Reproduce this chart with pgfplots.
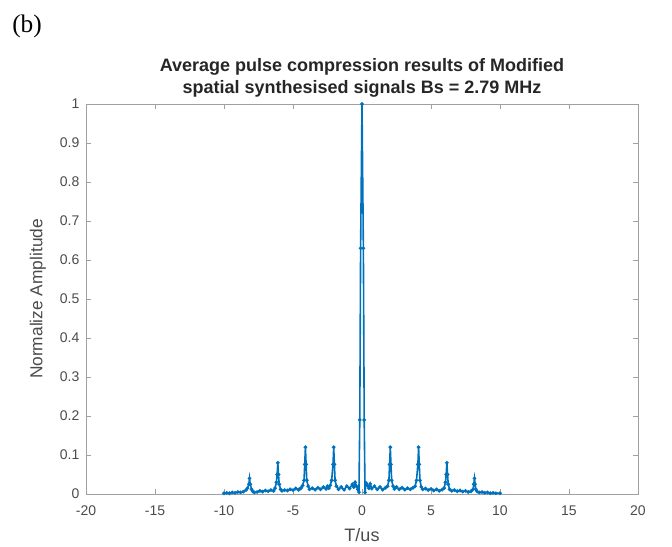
\documentclass[border=0pt]{standalone}
\usepackage{fontspec}
\setmainfont{Liberation Sans}
\newfontfamily\serifb{Liberation Serif}
\usepackage{pgfplots}
\pgfplotsset{compat=1.18}
\definecolor{mblue}{RGB}{0,114,189}
\definecolor{axgray}{RGB}{160,160,160}
\definecolor{labgray}{RGB}{75,75,75}
\begin{document}
\begin{tikzpicture}
\begin{axis}[
  at={(0pt,0pt)}, anchor=south west,
  scale only axis, width=414pt, height=292.5pt,
  xmin=-20, xmax=20, ymin=0, ymax=1,
  xtick={-20,-15,...,20},
  ytick={0,0.1,...,1},
  yticklabels={0,0.1,0.2,0.3,0.4,0.5,0.6,0.7,0.8,0.9,1},
  /pgf/number format/assume math mode=true,
  tick align=inside,
  major tick length=3.5pt,
  axis line style={axgray, line width=0.6pt},
  every tick/.style={axgray, line width=0.6pt},
  tick label style={font=\fontsize{10.5}{12}\selectfont, text=labgray},
  xticklabel style={yshift=-5.5pt},
  yticklabel style={xshift=-1.5pt},
  xlabel={T/us},
  xlabel style={font=\fontsize{13.5}{15}\selectfont, text=labgray, at={(axis description cs:0.5,-0.1051)}, anchor=center},
  ylabel={Normalize Amplitude},
  ylabel style={font=\fontsize{13}{15}\selectfont, text=labgray, at={(axis description cs:-0.087,0.5)}, anchor=center},
]
\addplot[mblue, line width=1.2pt, mark=*, mark size=0.7pt, mark options={fill=mblue, draw=mblue}] coordinates {
(-10.0,0.002)(-9.8,0.003)(-9.6,0.002)(-9.4,0.004)(-9.2,0.003)(-9.0,0.005)(-8.8,0.004)(-8.6,0.006)
(-8.4,0.01)(-8.3,0.015)(-8.2,0.025)(-8.15,0.04)(-8.1,0.025)(-8.0,0.012)(-7.9,0.006)(-7.8,0.004)
(-7.6,0.005)(-7.4,0.008)(-7.2,0.006)(-7.0,0.009)(-6.8,0.007)(-6.6,0.01)(-6.4,0.008)(-6.3,0.015)
(-6.2,0.03)(-6.15,0.05)(-6.1,0.08)(-6.05,0.05)(-6.0,0.025)(-5.9,0.012)(-5.8,0.008)(-5.6,0.01)
(-5.4,0.009)(-5.2,0.012)(-5.0,0.01)(-4.8,0.014)(-4.6,0.011)(-4.5,0.013)(-4.4,0.016)(-4.3,0.022)
(-4.2,0.035)(-4.15,0.076)(-4.1,0.12)(-4.05,0.076)(-4.0,0.035)(-3.9,0.02)(-3.8,0.012)(-3.6,0.015)
(-3.4,0.011)(-3.2,0.016)(-3.0,0.012)(-2.8,0.018)(-2.6,0.013)(-2.5,0.02)(-2.4,0.015)(-2.3,0.022)
(-2.2,0.035)(-2.1,0.076)(-2.05,0.12)(-2.0,0.076)(-1.95,0.035)(-1.85,0.02)(-1.7,0.012)(-1.5,0.018)
(-1.3,0.011)(-1.1,0.02)(-0.9,0.014)(-0.7,0.025)(-0.6,0.018)(-0.5,0.03)(-0.4,0.02)(-0.3,0.012)
(-0.22,0.005)(-0.16,0.19)(-0.1,0.63)(0,1)(0.1,0.63)(0.16,0.19)(0.22,0.004)
(0.3,0.028)(0.4,0.022)(0.5,0.015)(0.6,0.026)(0.7,0.014)(0.9,0.02)(1.1,0.012)(1.3,0.018)
(1.5,0.011)(1.7,0.016)(1.85,0.02)(1.95,0.035)(2.0,0.076)(2.05,0.12)(2.1,0.076)(2.15,0.035)
(2.25,0.02)(2.35,0.013)(2.5,0.018)(2.7,0.012)(2.9,0.016)(3.1,0.011)(3.3,0.015)(3.5,0.012)
(3.7,0.016)(3.85,0.02)(3.95,0.035)(4.05,0.076)(4.1,0.12)(4.15,0.076)(4.2,0.035)(4.3,0.018)
(4.4,0.012)(4.6,0.014)(4.8,0.01)(5.0,0.013)(5.2,0.009)(5.4,0.012)(5.6,0.008)(5.8,0.011)
(5.95,0.015)(6.05,0.03)(6.1,0.05)(6.15,0.08)(6.2,0.05)(6.25,0.025)(6.35,0.012)(6.5,0.008)
(6.7,0.01)(6.9,0.007)(7.1,0.009)(7.3,0.006)(7.5,0.008)(7.7,0.005)(7.9,0.007)(8.05,0.012)
(8.1,0.025)(8.15,0.04)(8.2,0.025)(8.25,0.012)(8.35,0.006)(8.5,0.004)(8.7,0.005)(8.9,0.003)
(9.1,0.004)(9.3,0.002)(9.5,0.003)(9.7,0.002)(10.0,0.002)
};
\end{axis}
\node[anchor=base, font=\bfseries\fontsize{13.5}{15}\selectfont, text=black!85] at (207pt,316.9pt) {Average pulse compression results of Modified};
\node[anchor=base, font=\bfseries\fontsize{13.5}{15}\selectfont, text=black!85] at (207pt,300.4pt) {spatial synthesised signals Bs = 2.79 MHz};
\node[anchor=west, font=\serifb\fontsize{19}{22}\selectfont, inner sep=0pt] at (-55.5pt,351pt) {(b)};
\path[use as bounding box] (-64.5pt,-39pt) rectangle (439.5pt,370.5pt);
\end{tikzpicture}
\end{document}
